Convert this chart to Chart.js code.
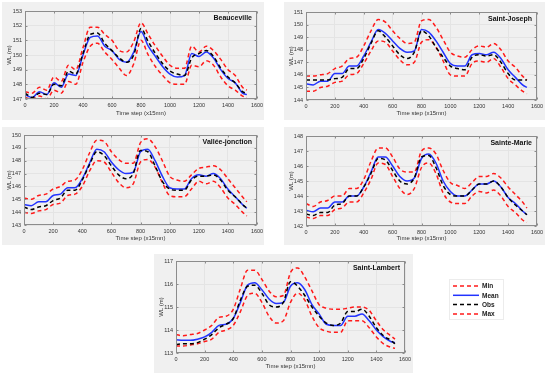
<!DOCTYPE html>
<html>
<head>
<meta charset="utf-8">
<script src="https://cdn.jsdelivr.net/npm/chart.js@4.4.0/dist/chart.umd.min.js"></script>
<style>
  body { margin: 0; background: #fff; width: 550px; height: 379px; overflow: hidden; position: relative; }
  .panel { position: absolute; background: #f0f0f0; }
  canvas { position: absolute; }
</style>
</head>
<body>
<script>
// time axis (x15mn)
const timeSteps = [0,50,100,150,200,250,300,350,400,450,500,550,600,650,700,750,800,850,900,950,1000,1050,1100,1150,1200,1250,1300,1350,1400,1450,1500,1530];
const timeTicks = [0,200,400,600,800,1000,1200,1400,1600];

// Beauceville
const beaucevilleMin  = [147.1,147.0,147.2,147.0,147.6,147.4,148.2,148.0,149.5,150.6,150.8,150.2,149.7,149.1,148.6,149.4,151.0,150.0,149.2,148.6,148.1,148.0,148.0,149.3,149.2,149.6,149.3,148.5,147.9,147.6,147.2,147.1];
const beaucevilleMean = [147.3,147.1,147.5,147.3,148.1,147.8,148.7,148.6,150.0,151.2,151.3,150.6,150.3,149.7,149.5,150.2,151.6,150.6,149.9,149.2,148.7,148.5,148.6,150.1,149.9,150.2,149.8,149.0,148.4,148.1,147.4,147.3];
const beaucevilleObs  = [147.4,147.1,147.4,147.3,148.0,147.9,148.9,148.7,150.1,151.4,151.5,150.8,150.3,149.8,149.5,150.0,151.8,150.9,150.1,149.4,148.9,148.7,148.6,149.8,150.1,150.3,149.9,149.1,148.5,148.1,147.5,147.4];
const beaucevilleMax  = [147.5,147.4,147.8,147.6,148.5,148.2,149.3,149.0,150.5,151.9,151.9,151.4,151.0,150.3,150.2,150.9,152.2,151.4,150.6,149.9,149.3,149.1,149.1,150.6,150.2,150.6,150.3,149.7,149.0,148.6,147.8,147.6];

// Saint-Joseph
const josephMin  = [144.7,144.7,145.0,145.1,145.4,145.5,146.0,146.1,146.9,147.9,148.7,148.6,147.9,147.2,146.8,147.0,148.6,148.8,148.2,147.1,146.0,145.9,145.9,146.9,147.1,147.0,147.3,146.6,145.7,145.2,144.7,144.5];
const josephMean = [145.3,145.2,145.5,145.5,146.1,146.1,146.7,146.7,147.5,148.6,149.6,149.3,148.7,148.1,147.8,147.9,149.6,149.4,148.7,147.8,146.9,146.7,146.7,147.6,147.7,147.6,147.8,147.3,146.4,145.8,145.2,145.0];
const josephObs  = [145.6,145.6,145.6,145.6,145.7,145.8,146.5,146.5,147.3,148.5,149.5,149.0,148.3,147.6,147.3,147.8,149.5,149.1,148.2,147.4,146.7,146.5,146.4,147.4,147.6,147.5,147.6,147.0,146.1,145.6,145.6,145.6];
const josephMax  = [145.9,145.9,146.0,146.1,146.5,146.7,147.3,147.4,148.3,149.5,150.4,150.2,149.5,148.9,148.5,148.6,150.3,150.4,149.8,148.8,147.8,147.5,147.4,148.0,148.3,148.2,148.5,148.0,147.1,146.6,145.9,145.6];

// Vallée-jonction
const valleeMin  = [144.0,143.9,144.1,144.2,144.6,144.7,145.3,145.4,146.0,147.2,148.0,147.9,147.1,146.3,145.9,146.2,147.9,148.1,147.5,146.3,145.3,145.2,145.2,145.8,146.4,146.2,146.4,145.9,145.1,144.6,144.0,143.7];
const valleeMean = [144.6,144.5,144.8,144.8,145.3,145.4,145.9,145.9,146.6,147.8,148.9,148.7,147.9,147.3,147.0,147.1,148.7,148.9,148.0,146.8,145.9,145.8,145.8,146.6,146.9,146.8,147.0,146.6,145.8,145.2,144.6,144.3];
const valleeObs  = [144.4,144.2,144.4,144.5,144.9,145.1,145.7,145.7,146.5,147.7,148.7,148.4,147.6,146.9,146.6,147.0,148.8,148.7,147.6,146.4,145.8,145.7,145.7,146.5,146.8,146.8,146.9,146.5,145.7,145.2,144.6,144.3];
const valleeMax  = [145.1,145.0,145.3,145.4,145.8,146.0,146.4,146.5,147.3,148.6,149.6,149.5,148.7,148.1,147.8,147.8,149.4,149.7,149.1,148.0,146.8,146.5,146.4,146.9,147.4,147.5,147.6,147.3,146.6,145.9,145.2,144.8];

// Sainte-Marie
const marieMin  = [142.6,142.5,142.7,142.7,143.1,143.2,143.6,143.6,144.2,145.1,146.2,146.1,145.3,144.5,144.1,144.5,145.9,146.2,145.5,144.2,143.6,143.5,143.5,144.0,144.3,144.2,144.4,144.0,143.3,142.9,142.4,142.25];
const marieMean = [143.05,142.95,143.2,143.2,143.6,143.6,144.0,144.0,144.6,145.6,146.6,146.6,146.0,145.3,145.0,145.2,146.5,146.8,146.2,145.0,144.3,144.0,144.0,144.4,144.8,144.8,145.0,144.6,143.9,143.5,143.0,142.75];
const marieObs  = [142.8,142.7,142.9,142.9,143.4,143.5,144.0,144.0,144.6,145.5,146.5,146.4,145.7,145.0,144.8,145.2,146.6,146.7,145.9,144.7,144.1,144.0,144.0,144.4,144.8,144.8,145.0,144.6,143.9,143.4,143.0,142.75];
const marieMax  = [143.5,143.3,143.6,143.7,144.0,144.0,144.5,144.5,145.1,146.3,147.2,147.2,146.6,145.8,145.6,145.6,147.0,147.2,146.8,145.7,144.9,144.7,144.5,144.9,145.3,145.3,145.5,145.2,144.6,144.1,143.6,143.2];

// Saint-Lambert
const lambertMin  = [113.3,113.3,113.35,113.4,113.5,113.6,113.9,114.0,114.2,114.8,115.5,115.6,115.2,114.6,114.3,114.4,115.2,115.6,115.3,114.6,114.1,113.95,113.9,113.9,114.4,114.4,114.4,114.1,113.7,113.4,113.25,113.2];
const lambertMean = [113.58,113.55,113.55,113.6,113.7,113.9,114.2,114.25,114.5,115.2,115.95,116.05,115.75,115.35,115.15,115.2,115.9,116.05,115.75,115.1,114.7,114.25,114.2,114.2,114.6,114.6,114.7,114.4,114.0,113.7,113.5,113.45];
const lambertObs  = [113.36,113.4,113.4,113.45,113.6,113.8,114.1,114.25,114.5,115.3,115.9,115.95,115.6,115.1,115.0,115.2,116.1,115.9,115.5,115.0,114.6,114.3,114.2,114.3,114.8,114.8,114.9,114.6,114.1,113.75,113.55,113.4];
const lambertMax  = [113.8,113.75,113.8,113.85,114.0,114.2,114.55,114.6,114.9,115.8,116.6,116.6,116.2,115.7,115.45,115.5,116.5,116.7,116.3,115.7,115.1,114.95,114.9,114.9,114.95,115.0,115.0,114.85,114.4,114.0,113.75,113.6];

const seriesNames = ['Min', 'Mean', 'Obs', 'Max'];

const FONT = '"Liberation Sans", Arial, sans-serif';

// panel layout: gray box [x, y, w, h] and plot area [x1, y1, x2, y2] in page pixels
const panels = [
  { name: 'Beauceville', box: [2, 2, 262, 118], plot: [25, 11, 257, 99], yMin: 147, yMax: 153,
    min: beaucevilleMin, mean: beaucevilleMean, obs: beaucevilleObs, max: beaucevilleMax },
  { name: 'Saint-Joseph', box: [284, 2, 261, 118], plot: [306, 12, 537, 100], yMin: 144, yMax: 151,
    min: josephMin, mean: josephMean, obs: josephObs, max: josephMax },
  { name: 'Vallée-jonction', box: [2, 127, 262, 118], plot: [24, 135, 257, 225], yMin: 143, yMax: 150,
    min: valleeMin, mean: valleeMean, obs: valleeObs, max: valleeMax },
  { name: 'Sainte-Marie', box: [284, 127, 261, 118], plot: [306, 136, 537, 226], yMin: 142, yMax: 148,
    min: marieMin, mean: marieMean, obs: marieObs, max: marieMax },
  { name: 'Saint-Lambert', box: [154, 254, 259, 119], plot: [176, 261, 405, 353], yMin: 113, yMax: 117,
    min: lambertMin, mean: lambertMean, obs: lambertObs, max: lambertMax, legend: true }
];

// frame, inward ticks and station name inside each axes
const framePlugin = {
  id: 'frame',
  afterDatasetsDraw(chart, args, opts) {
    const ctx = chart.ctx, a = chart.chartArea;
    const xs = chart.scales.x, ys = chart.scales.y;
    ctx.save();
    ctx.strokeStyle = '#8c8c8c';
    ctx.lineWidth = 1;
    const l = Math.round(a.left) + 0.5, r = Math.round(a.right) - 0.5;
    const t = Math.round(a.top) + 0.5, b = Math.round(a.bottom) - 0.5;
    ctx.strokeRect(l, t, r - l, b - t);
    ctx.beginPath();
    xs.ticks.forEach(tk => {
      const px = Math.round(xs.getPixelForValue(tk.value)) + 0.5;
      ctx.moveTo(px, b); ctx.lineTo(px, b - 2);
      ctx.moveTo(px, t); ctx.lineTo(px, t + 2);
    });
    ys.ticks.forEach(tk => {
      const py = Math.round(ys.getPixelForValue(tk.value)) + 0.5;
      ctx.moveTo(l, py); ctx.lineTo(l + 2, py);
      ctx.moveTo(r, py); ctx.lineTo(r - 2, py);
    });
    ctx.stroke();
    ctx.font = 'bold 7px ' + FONT;
    ctx.fillStyle = '#111';
    ctx.textAlign = 'right';
    ctx.textBaseline = 'middle';
    ctx.fillText(opts.text, a.right - 5, a.top + 7);

    if (opts.legend) {
      // legend placed to the right of the last panel
      const lx = a.right + 48, ly = a.top + 25;
      ctx.strokeStyle = '#ececec';
      ctx.strokeRect(lx - 3.5, ly - 6.5, 54, 40);
      ctx.font = 'bold 6.5px ' + FONT;
      ctx.textAlign = 'left';
      ctx.fillStyle = '#222';
      seriesNames.forEach((n, i) => {
        const ds = chart.data.datasets.find(d => d.label === n);
        const y = ly + i * 9.3;
        ctx.save();
        ctx.strokeStyle = ds.borderColor;
        ctx.lineWidth = ds.borderWidth;
        ctx.setLineDash(ds.borderDash || []);
        ctx.beginPath();
        ctx.moveTo(lx, y); ctx.lineTo(lx + 26, y);
        ctx.stroke();
        ctx.restore();
        ctx.fillText(n, lx + 29, y + 0.5);
      });
    }
    ctx.restore();
  }
};

function pts(vals) {
  return timeSteps.map((t, i) => ({ x: t, y: vals[i] }));
}

panels.forEach(p => {
  const [bx, by, bw, bh] = p.box;
  const [x1, y1, x2, y2] = p.plot;
  const bg = document.createElement('div');
  bg.className = 'panel';
  bg.style.left = bx + 'px'; bg.style.top = by + 'px';
  bg.style.width = bw + 'px'; bg.style.height = bh + 'px';
  document.body.appendChild(bg);

  const cw = p.legend ? 360 : bw + 12;
  const cv = document.createElement('canvas');
  cv.width = cw; cv.height = bh;
  cv.style.left = bx + 'px'; cv.style.top = by + 'px';
  cv.style.width = cw + 'px'; cv.style.height = bh + 'px';
  document.body.appendChild(cv);

  const yw = x1 - bx;
  const xh = by + bh - y2;
  const padTop = y1 - by;
  const padRight = cw - (x2 - bx);

  const line = (label, vals, color, dash, order) => ({
    label: label,
    data: pts(vals),
    borderColor: color,
    borderWidth: 1.5,
    borderDash: dash,
    pointRadius: 0,
    fill: false,
    cubicInterpolationMode: 'monotone',
    order: order
  });

  new Chart(cv.getContext('2d'), {
    type: 'line',
    data: {
      datasets: [
        line('Min', p.min, '#ff1a1a', [4, 3], 3),
        line('Mean', p.mean, '#2233ff', [], 1),
        line('Obs', p.obs, '#000000', [4, 3], 0),
        line('Max', p.max, '#ff1a1a', [4, 3], 2)
      ]
    },
    options: {
      responsive: false,
      animation: false,
      devicePixelRatio: 1,
      layout: { padding: { top: padTop, right: padRight, left: 0, bottom: 0 } },
      plugins: {
        legend: { display: false },
        tooltip: { enabled: false },
        frame: { text: p.name, legend: !!p.legend }
      },
      scales: {
        x: {
          type: 'linear', min: 0, max: 1600,
          afterBuildTicks: s => { s.ticks = timeTicks.map(v => ({ value: v })); },
          ticks: { font: { size: 5.5, family: FONT }, color: '#333', padding: 3, maxRotation: 0, autoSkip: false,
                   callback: v => String(v) },
          grid: { color: '#e4e4e4', drawTicks: false },
          border: { display: false },
          title: { display: true, text: 'Time step (x15mn)', font: { size: 6, family: FONT }, color: '#333', padding: { top: 0, bottom: 3 } },
          afterFit: s => { s.height = xh; s.paddingLeft = 0; s.paddingRight = 0; }
        },
        y: {
          min: p.yMin, max: p.yMax,
          ticks: { stepSize: 1, font: { size: 5.5, family: FONT }, color: '#333', padding: 3, callback: v => String(v) },
          grid: { color: '#e4e4e4', drawTicks: false },
          border: { display: false },
          title: { display: true, text: 'WL (m)', font: { size: 6, family: FONT }, color: '#333', padding: { top: 4, bottom: 0 } },
          afterFit: s => { s.width = yw; s.paddingTop = 0; s.paddingBottom = 0; }
        }
      }
    },
    plugins: [framePlugin]
  });
});
</script>
</body>
</html>
